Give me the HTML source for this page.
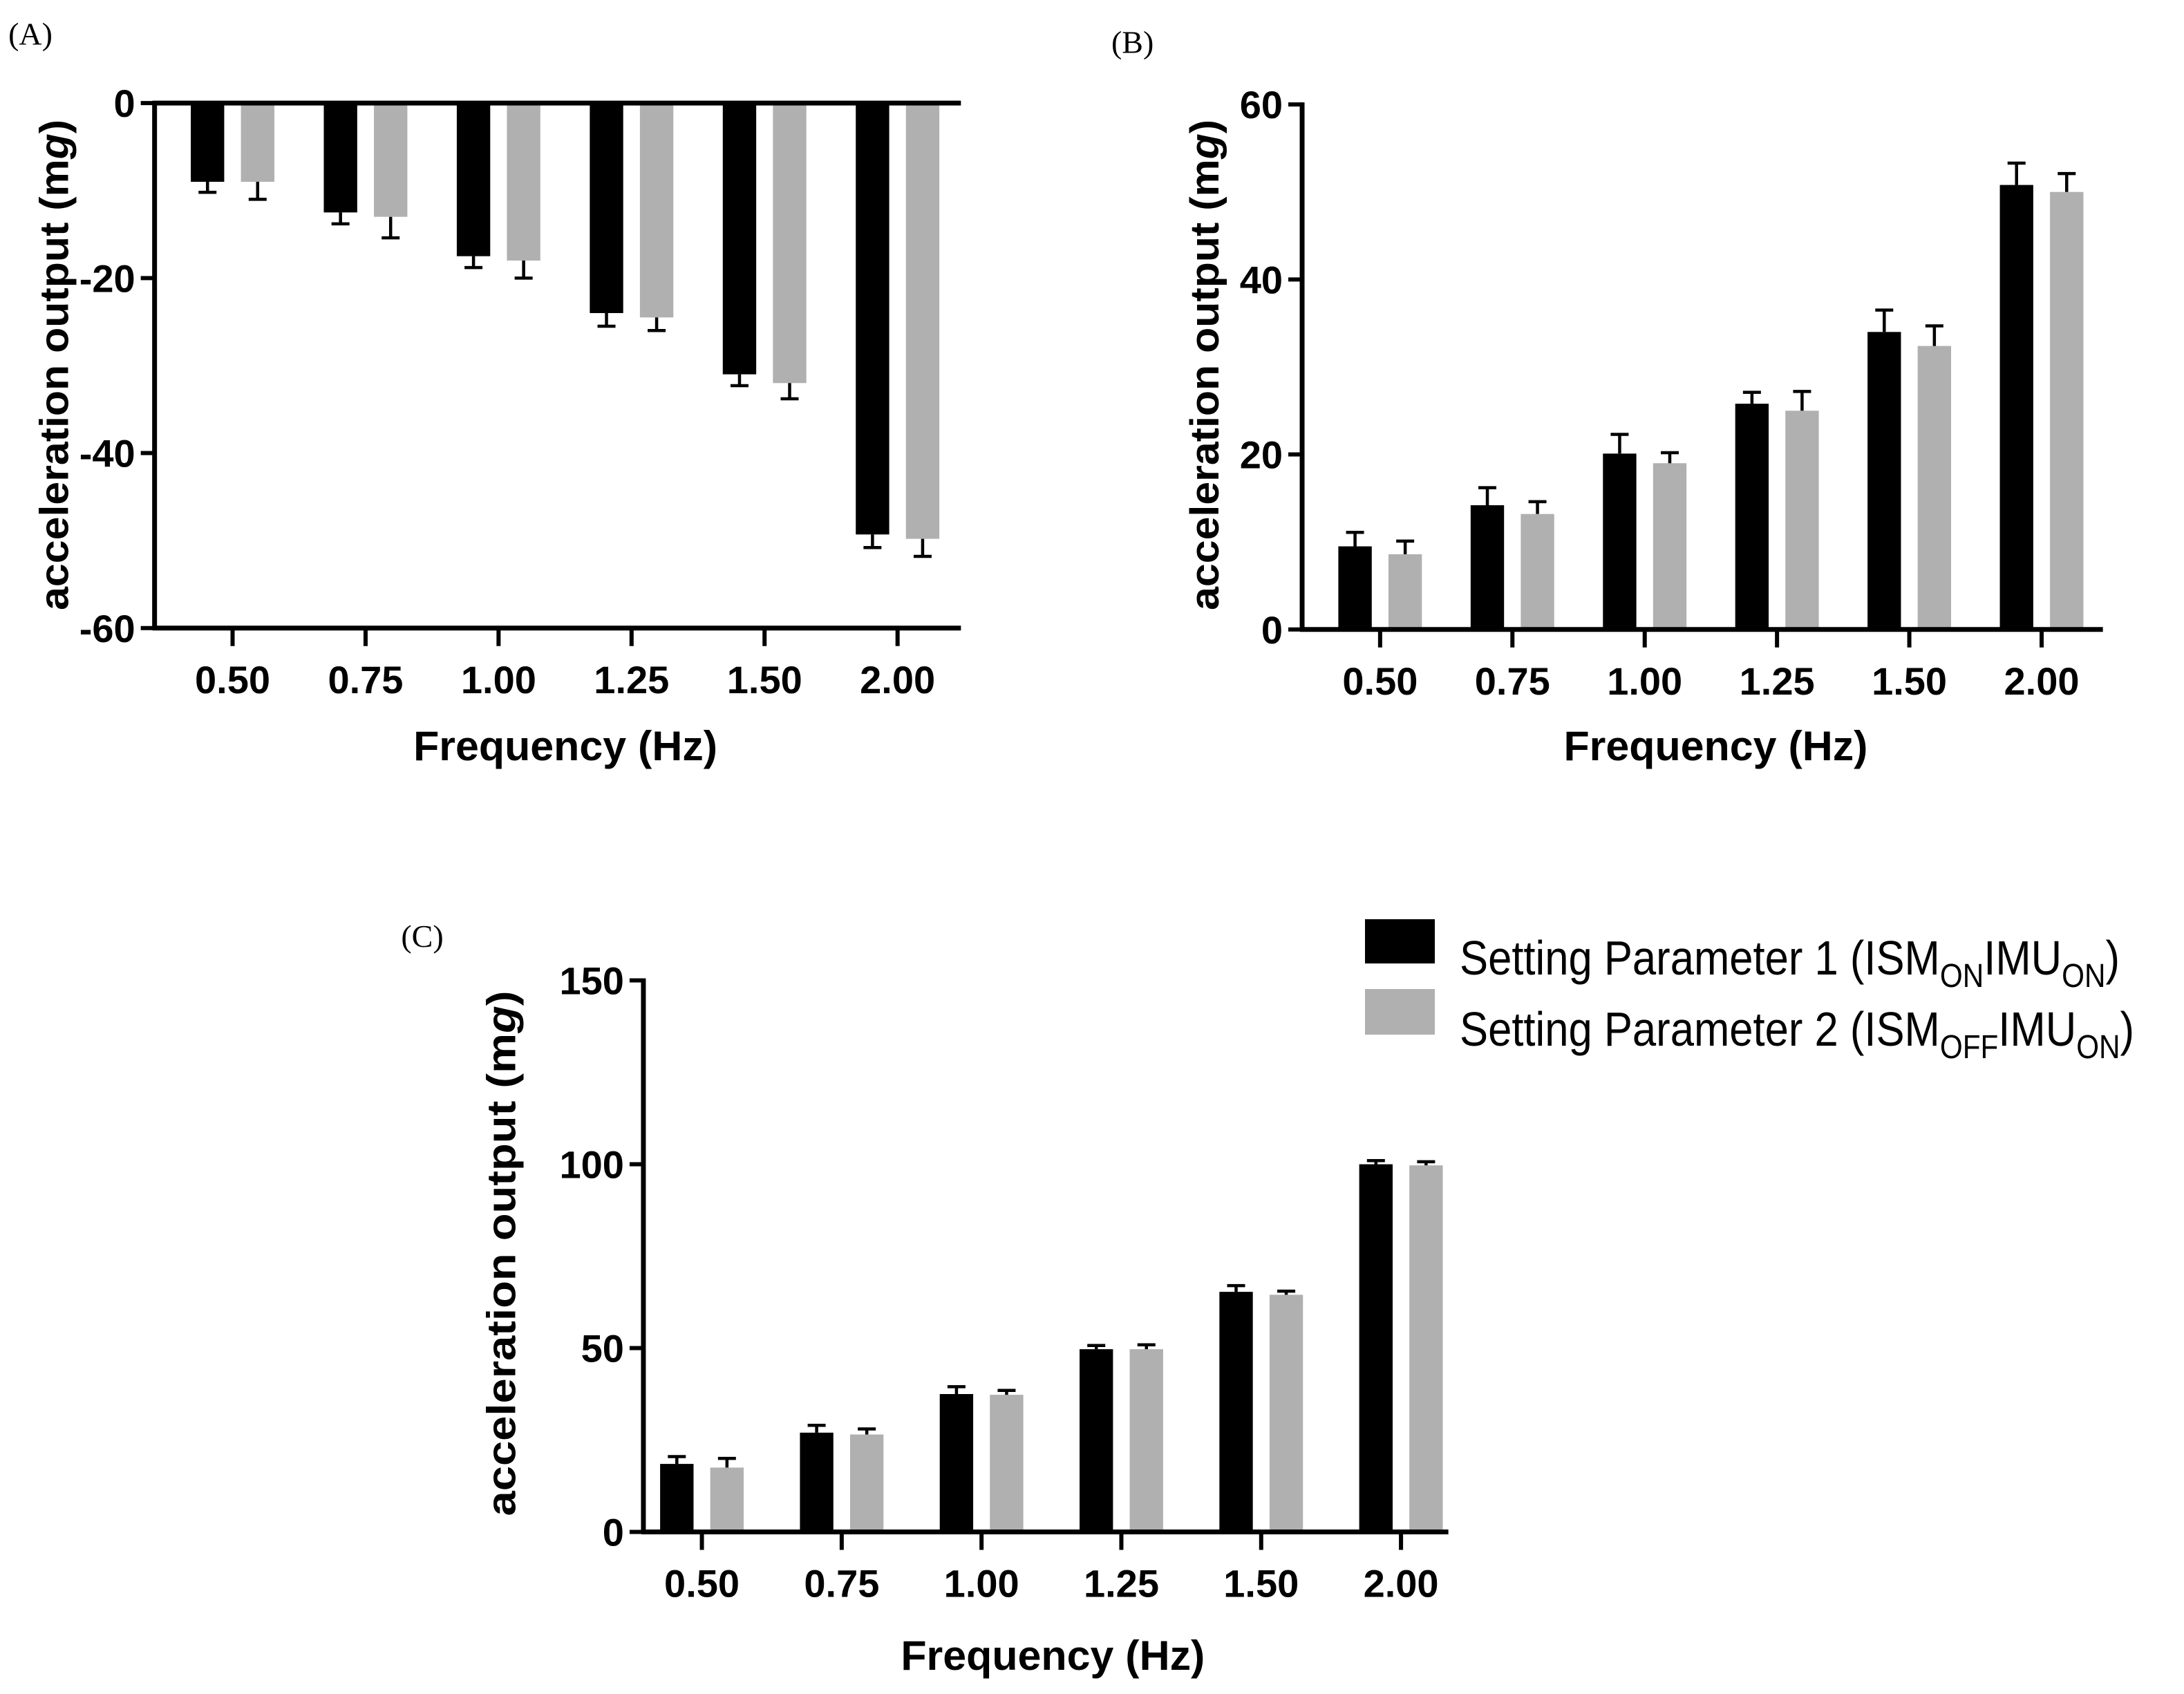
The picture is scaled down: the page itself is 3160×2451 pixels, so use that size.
<!DOCTYPE html>
<html><head><meta charset="utf-8"><style>
html,body{margin:0;padding:0;background:#fff}
svg{display:block}
text{font-family:"Liberation Sans",Arial,sans-serif}
text.serif{font-family:"Liberation Serif",serif}
</style></head><body>
<svg id="fig" width="3160" height="2451" viewBox="0 0 3160 2451" xmlns="http://www.w3.org/2000/svg">
<g id="legend">
<rect x="1975" y="1330" width="101" height="64" fill="#000"/>
<text x="2112" y="1410" font-size="70" transform="translate(2112 0) scale(0.88 1) translate(-2112 0)">Setting Parameter 1 (ISM<tspan font-size="48" dy="18">ON</tspan><tspan dy="-18">IMU</tspan><tspan font-size="48" dy="18">ON</tspan><tspan dy="-18">)</tspan></text>
<rect x="1975" y="1431" width="101" height="66" fill="#b0b0b0"/>
<text x="2112" y="1513" font-size="70" transform="translate(2112 0) scale(0.88 1) translate(-2112 0)">Setting Parameter 2 (ISM<tspan font-size="48" dy="18">OFF</tspan><tspan dy="-18">IMU</tspan><tspan font-size="48" dy="18">ON</tspan><tspan dy="-18">)</tspan></text>
</g>
</svg>
<script>
const categories = ["0.50","0.75","1.00","1.25","1.50","2.00"];
const aSeries1 = [-9, -12.5, -17.5, -24, -31, -49.3];
const aErr1 = [1.2, 1.3, 1.3, 1.5, 1.3, 1.5];
const aSeries2 = [-9, -13, -18, -24.5, -32, -49.8];
const aErr2 = [2, 2.4, 2, 1.5, 1.8, 2];
const aTicks = [0, -20, -40, -60];
const bSeries1 = [9.5, 14.2, 20.1, 25.8, 34, 50.8];
const bErr1 = [1.6, 2, 2.2, 1.3, 2.5, 2.5];
const bSeries2 = [8.6, 13.2, 19, 25, 32.4, 50];
const bErr2 = [1.5, 1.4, 1.2, 2.2, 2.3, 2.1];
const bTicks = [0, 20, 40, 60];
const cSeries1 = [18.5, 27, 37.5, 49.7, 65.3, 100];
const cErr1 = [2, 2, 2, 1, 1.7, 1];
const cSeries2 = [17.5, 26.5, 37.3, 49.7, 64.5, 99.7];
const cErr2 = [2.5, 1.5, 1.2, 1.2, 1, 1];
const cTicks = [0, 50, 100, 150];

const S = 2.015;
const NS = "http://www.w3.org/2000/svg";
const svg = document.getElementById('fig');
function mk(tag, attrs, parent, txt){
  const e = document.createElementNS(NS, tag);
  for (const k in attrs) e.setAttribute(k, attrs[k]);
  if (txt !== undefined) e.textContent = txt;
  parent.appendChild(e);
  return e;
}
function panel(p){
  const g = mk('g', {}, svg);
  
  
  const yS = v => S * (p.pyMin + (v - p.dMin) / (p.dMax - p.dMin) * (p.pyMax - p.pyMin));
  const xS = i => S * (p.x0 + i * p.dx);
  const axL = S * p.axX, axR = S * p.axR, yBot = S * p.pyMin;
  const lab = mk('text', {x: S*p.lx, y: S*p.ly, 'font-size': 46, 'class': 'serif'}, g, '(' + p.id.toUpperCase() + ')');
  
  
  const bw = 24 * S;
  const series = [[p.s1, p.e1, '#000'], [p.s2, p.e2, '#b0b0b0']];
  series.forEach((ser, si) => {
    ser[0].forEach((v, i) => {
      const cx = xS(i);
      const left = si === 0 ? cx - 30*S : cx + 6*S;
      const y0 = yS(0), y1 = yS(v);
      const r = mk('rect', {x: left, y: Math.min(y0, y1), width: bw, height: Math.abs(y1 - y0), fill: ser[2]}, g);
      
      
      const sgn = v < 0 ? -1 : 1;
      const ye = yS(v + sgn * ser[1][i]);
      const mx = left + bw/2;
      const eb = mk('path', {d: `M${mx},${y1}L${mx},${ye}M${mx-13},${ye}L${mx+13},${ye}`, stroke: '#000', 'stroke-width': 4.5, fill: 'none'}, g);
      
      
    });
  });
  const ya = mk('line', {x1: axL, y1: yS(p.dMax) - 3, x2: axL, y2: yBot + 3, stroke: '#000', 'stroke-width': 7}, g);
  
  
  const xa = mk('line', {x1: axL - 3, y1: yBot, x2: axR, y2: yBot, stroke: '#000', 'stroke-width': 7}, g);
  
  
  if (p.zeroLine) {
    const zl = mk('line', {x1: axL - 3, y1: yS(0), x2: axR, y2: yS(0), stroke: '#000', 'stroke-width': 7}, g);
    
    
  }
  p.ticks.forEach(t => {
    const y = yS(t);
    const tl = mk('line', {x1: axL - 20, y1: y, x2: axL, y2: y, stroke: '#000', 'stroke-width': 6}, g);
    
    
    const tt = mk('text', {x: axL - 28, y: y + 20, 'font-size': 56, 'font-weight': 'bold', 'text-anchor': 'end'}, g, String(t));
    
    
  });
  categories.forEach((c, i) => {
    const x = xS(i);
    const tl = mk('line', {x1: x, y1: yBot, x2: x, y2: yBot + 26, stroke: '#000', 'stroke-width': 6}, g);
    
    
    const tt = mk('text', {x: x, y: yBot + 94, 'font-size': 56, 'font-weight': 'bold', 'text-anchor': 'middle'}, g, c);
    
    
  });
  const xt = mk('text', {x: S*p.xtx, y: S*p.xty, 'font-size': 60, 'font-weight': 'bold', 'text-anchor': 'middle', textLength: 440, lengthAdjust: 'spacingAndGlyphs'}, g, 'Frequency (Hz)');
  
  
  const cy = S*p.ytCy, cx = S*p.ytX;
  const yt = mk('text', {x: cx, y: cy, 'font-size': 58, 'font-weight': 'bold', 'text-anchor': 'middle', transform: `rotate(-90 ${cx} ${cy})`, textLength: p.ytLen, lengthAdjust: 'spacingAndGlyphs'}, g);
  
  
  yt.appendChild(document.createTextNode('acceleration output (m'));
  mk('tspan', {'font-style': 'italic'}, yt, 'g');
  yt.appendChild(document.createTextNode(')'));
}
panel({id:'a', lx:6, ly:32, axX:111, axR:690, pyMin:451, pyMax:74, dMin:-60, dMax:0, x0:167, dx:95.5,
  s1:aSeries1, e1:aErr1, s2:aSeries2, e2:aErr2, ticks:aTicks, zeroLine:true,
  xtx:406, xty:546, ytX:49, ytCy:262, ytLen:710});
panel({id:'b', lx:798, ly:38, axX:935, axR:1510, pyMin:452, pyMax:75, dMin:0, dMax:60, x0:991, dx:95,
  s1:bSeries1, e1:bErr1, s2:bSeries2, e2:bErr2, ticks:bTicks, zeroLine:false,
  xtx:1232, xty:546, ytX:875, ytCy:262, ytLen:710});
panel({id:'c', lx:288, ly:680, axX:462, axR:1040, pyMin:1100, pyMax:704, dMin:0, dMax:150, x0:504, dx:100.4,
  s1:cSeries1, e1:cErr1, s2:cSeries2, e2:cErr2, ticks:cTicks, zeroLine:false,
  xtx:756, xty:1199, ytX:370, ytCy:900, ytLen:760});
</script>
</body></html>
